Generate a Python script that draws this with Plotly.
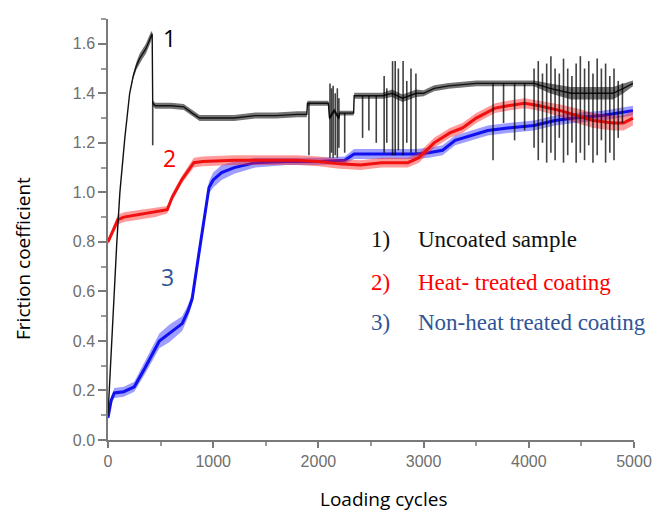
import plotly.graph_objects as go

# ---------------- data ----------------
# Curve 1: uncoated sample (black)
unc_x = [0, 40, 84, 113, 160, 206, 240, 269, 300, 330, 360, 390, 410, 420,
         425, 450, 600, 720, 800, 870, 1000, 1200, 1400, 1600, 1800, 1890,
         1896, 2095, 2105, 2150, 2195, 2200, 2335, 2340, 2610, 2700, 2800, 2930,
         3000, 3100, 3240, 3500, 3800, 4050, 4200, 4400, 4600, 4800, 4900, 4990]
unc_y = [0.10, 0.45, 0.80, 1.00, 1.22, 1.40, 1.47, 1.51, 1.54, 1.56, 1.58, 1.61, 1.63, 1.64,
         1.36, 1.35, 1.35, 1.345, 1.32, 1.30, 1.30, 1.30, 1.31, 1.31, 1.315, 1.315,
         1.36, 1.36, 1.30, 1.33, 1.30, 1.32, 1.32, 1.39, 1.39, 1.40, 1.38, 1.40,
         1.40, 1.42, 1.43, 1.44, 1.44, 1.44, 1.42, 1.40, 1.40, 1.40, 1.42, 1.44]
unc_s = [0, 0, 0, 0, 0, 0, 0.01, 0.015, 0.02, 0.02, 0.02, 0.02, 0.02, 0.01,
         0.012, 0.012, 0.012, 0.012, 0.012, 0.012, 0.012, 0.012, 0.012, 0.012, 0.012, 0.012,
         0.01, 0.01, 0.01, 0.01, 0.01, 0.01, 0.01, 0.012, 0.012, 0.015, 0.015, 0.015,
         0.012, 0.012, 0.012, 0.012, 0.012, 0.012, 0.02, 0.025, 0.025, 0.025, 0.02, 0.012]

# vertical noise spikes of curve 1: position, low end, high end
spike_x = [425, 1910, 2110, 2125, 2140, 2160, 2180, 2195, 2250, 2420, 2480, 2550,
           2625, 2650, 2705, 2730, 2760, 2805, 2840, 2880, 2927,
           3660, 3760, 3865, 3960,
           4050, 4090, 4130, 4170, 4210, 4250, 4290, 4330, 4370, 4410, 4450,
           4490, 4530, 4570, 4610, 4650, 4690, 4730, 4770, 4810, 4850, 4890]
spike_lo = [1.19, 1.15, 1.14, 1.16, 1.14, 1.15, 1.14, 1.18, 1.16, 1.22, 1.25, 1.20,
            1.16, 1.20, 1.15, 1.15, 1.17, 1.15, 1.20, 1.16, 1.16,
            1.13, 1.28, 1.21, 1.25,
            1.18, 1.13, 1.20, 1.12, 1.16, 1.13, 1.22, 1.12, 1.15, 1.20, 1.12,
            1.16, 1.13, 1.19, 1.12, 1.15, 1.21, 1.12, 1.16, 1.13, 1.22, 1.28]
spike_hi = [1.36, 1.36, 1.44, 1.42, 1.43, 1.40, 1.42, 1.38, 1.32, 1.39, 1.39, 1.39,
            1.47, 1.42, 1.53, 1.53, 1.50, 1.53, 1.45, 1.50, 1.48,
            1.44, 1.44, 1.44, 1.44,
            1.50, 1.53, 1.48, 1.52, 1.55, 1.50, 1.48, 1.54, 1.50, 1.47, 1.52,
            1.55, 1.50, 1.53, 1.48, 1.54, 1.50, 1.52, 1.47, 1.50, 1.45, 1.44]

# Curve 2: heat-treated coating (red)
heat_x = [0, 50, 94, 150, 300, 450, 563, 610, 700, 816, 900, 1200, 1500, 1800,
          2000, 2200, 2400, 2600, 2850, 2955, 3100, 3250, 3370, 3500, 3680, 3800,
          3960, 4100, 4300, 4450, 4615, 4800, 4900, 4990]
heat_y = [0.80, 0.85, 0.89, 0.90, 0.91, 0.92, 0.93, 0.98, 1.05, 1.12, 1.125, 1.13, 1.13, 1.13,
          1.125, 1.115, 1.11, 1.12, 1.12, 1.14, 1.20, 1.24, 1.26, 1.30, 1.34, 1.35,
          1.36, 1.35, 1.33, 1.31, 1.29, 1.28, 1.28, 1.30]
heat_s = [0.01, 0.015, 0.02, 0.02, 0.02, 0.02, 0.015, 0.015, 0.015, 0.02, 0.02, 0.02, 0.02, 0.02,
          0.02, 0.02, 0.02, 0.02, 0.02, 0.02, 0.02, 0.02, 0.02, 0.02, 0.02, 0.02,
          0.02, 0.02, 0.025, 0.03, 0.03, 0.03, 0.03, 0.03]

# Curve 3: non-heat treated coating (blue)
nonh_x = [0, 30, 60, 150, 250, 350, 488, 582, 705, 760, 800, 863, 926, 960, 1000,
          1080, 1200, 1400, 1700, 2000, 2250, 2340, 2600, 2930, 3050, 3180, 3300,
          3450, 3610, 3800, 4050, 4250, 4430, 4700, 4990]
nonh_y = [0.09, 0.16, 0.19, 0.195, 0.215, 0.29, 0.40, 0.43, 0.47, 0.52, 0.57, 0.75, 0.93, 1.02, 1.05,
          1.08, 1.10, 1.12, 1.125, 1.125, 1.13, 1.155, 1.155, 1.155, 1.16, 1.17, 1.21,
          1.23, 1.25, 1.26, 1.27, 1.29, 1.30, 1.31, 1.33]
nonh_s = [0.01, 0.015, 0.02, 0.02, 0.02, 0.025, 0.03, 0.035, 0.03, 0.025, 0.02, 0.02, 0.02, 0.025, 0.03,
          0.03, 0.025, 0.02, 0.015, 0.015, 0.015, 0.02, 0.02, 0.02, 0.02, 0.02, 0.02,
          0.02, 0.02, 0.02, 0.02, 0.02, 0.02, 0.02, 0.02]

x_ticks = [0, 1000, 2000, 3000, 4000, 5000]
y_ticks = [0.0, 0.2, 0.4, 0.6, 0.8, 1.0, 1.2, 1.4, 1.6]

legend_nums = ["1)", "2)", "3)"]
legend_names = ["Uncoated sample", "Heat- treated coating", "Non-heat treated coating"]
legend_colors = ["#111111", "#ff0000", "#2f5597"]
curve_labels = ["1", "2", "3"]

# ---------------- figure ----------------
fig = go.Figure()


def add_band(x, y, s, color):
    fig.add_trace(go.Scatter(x=x, y=[a + b for a, b in zip(y, s)], mode="lines",
                             line=dict(width=0), hoverinfo="skip", showlegend=False))
    fig.add_trace(go.Scatter(x=x, y=[a - b for a, b in zip(y, s)], mode="lines",
                             line=dict(width=0), fill="tonexty", fillcolor=color,
                             hoverinfo="skip", showlegend=False))


# blue
add_band(nonh_x, nonh_y, nonh_s, "rgba(40,40,255,0.45)")
fig.add_trace(go.Scatter(x=nonh_x, y=nonh_y, mode="lines",
                         line=dict(color="#1010f0", width=3), showlegend=False))
# red
add_band(heat_x, heat_y, heat_s, "rgba(255,30,30,0.45)")
fig.add_trace(go.Scatter(x=heat_x, y=heat_y, mode="lines",
                         line=dict(color="#f01010", width=3), showlegend=False))
# black
add_band(unc_x, unc_y, unc_s, "rgba(0,0,0,0.55)")
fig.add_trace(go.Scatter(x=unc_x, y=unc_y, mode="lines",
                         line=dict(color="#111111", width=1.4), showlegend=False))

sx, sy = [], []
for xv, lo, hi in zip(spike_x, spike_lo, spike_hi):
    sx += [xv, xv, None]
    sy += [lo, hi, None]
fig.add_trace(go.Scatter(x=sx, y=sy, mode="lines",
                         line=dict(color="rgba(0,0,0,0.75)", width=1.6), showlegend=False))

# curve labels
label_pos = [(582, 1.625), (582, 1.14), (563, 0.658)]
label_cols = ["#000000", "#ff0000", "#2f5597"]
for t, (lx, ly), c in zip(curve_labels, label_pos, label_cols):
    fig.add_annotation(x=lx, y=ly, text=t, showarrow=False, xanchor="center", yanchor="middle",
                       font=dict(family="Open Sans", size=23, color=c))

# legend text
rows_y = [0.808, 0.638, 0.473]
for n, name, c, ry in zip(legend_nums, legend_names, legend_colors, rows_y):
    fig.add_annotation(x=2477, y=ry, text=n, showarrow=False, xanchor="left", yanchor="middle",
                       font=dict(family="Liberation Serif", size=23, color=c))
    fig.add_annotation(x=2925, y=ry, text=name, showarrow=False, xanchor="left", yanchor="middle",
                       font=dict(family="Liberation Serif", size=23, color=c))

# axis titles
fig.add_annotation(xref="paper", yref="paper", x=0, y=0.430, xshift=-85, text="Friction coefficient",
                   textangle=-90, showarrow=False, xanchor="center", yanchor="middle",
                   font=dict(family="Open Sans", size=19, color="#000000"))
fig.add_annotation(xref="paper", yref="paper", x=0.523, y=-0.141, text="Loading cycles",
                   showarrow=False, xanchor="center", yanchor="middle",
                   font=dict(family="Open Sans", size=19, color="#000000"))

axis_font = dict(family="Liberation Sans", size=16, color="#6e6e6e")
fig.update_xaxes(range=[0, 5000], tickvals=x_ticks, ticktext=[str(v) for v in x_ticks],
                 showgrid=False, zeroline=False, showline=True, linecolor="#7a7a7a", linewidth=1.5,
                 ticks="outside", ticklen=6, tickwidth=1.5, tickcolor="#7a7a7a",
                 tickfont=axis_font,
                 minor=dict(dtick=500, tick0=0, ticks="outside", ticklen=4, tickcolor="#9a9a9a",
                            showgrid=False))
fig.update_yaxes(range=[0, 1.7], tickvals=y_ticks, ticktext=[f"{v:.1f}" for v in y_ticks],
                 showgrid=False, zeroline=False, showline=True, linecolor="#7a7a7a", linewidth=1.5,
                 ticks="outside", ticklen=8, tickwidth=1.5, tickcolor="#7a7a7a",
                 tickfont=axis_font,
                 minor=dict(dtick=0.1, tick0=0, ticks="outside", ticklen=5, tickcolor="#9a9a9a",
                            showgrid=False))

fig.update_layout(width=664, height=513, autosize=False,
                  margin=dict(l=108, r=21, t=18.5, b=72.5),
                  plot_bgcolor="white", paper_bgcolor="white", showlegend=False)

fig.write_html("out.html", config={"displayModeBar": False},
               post_script="document.body.style.margin='0';document.body.style.padding='0';")
